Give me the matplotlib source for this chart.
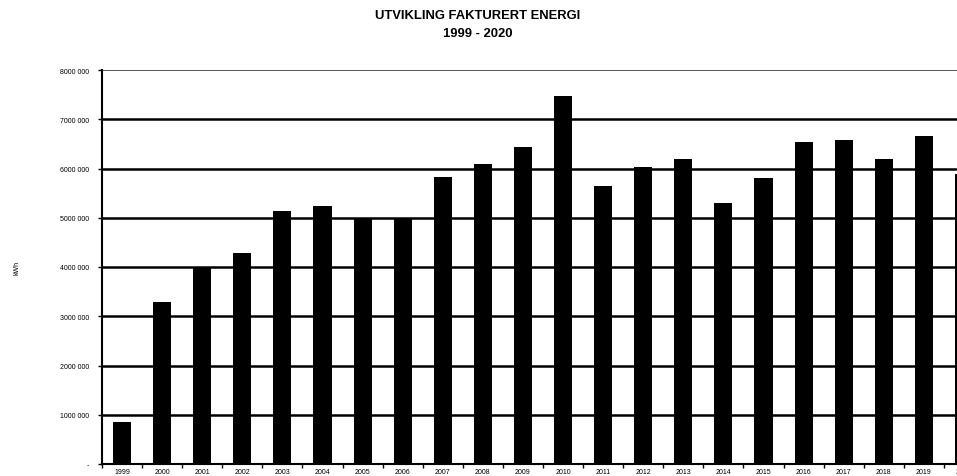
import numpy as np
import matplotlib
matplotlib.use('Agg')
import matplotlib.pyplot as plt
from matplotlib.ticker import FuncFormatter

# Data (kWh)
years = ['1999', '2000', '2001', '2002', '2003', '2004', '2005', '2006', '2007', '2008', '2009',
         '2010', '2011', '2012', '2013', '2014', '2015', '2016', '2017', '2018', '2019', '2020']
energy = [860000, 3290000, 4000000, 4290000, 5140000, 5240000, 5000000, 4990000, 5820000, 6100000, 6430000,
          7470000, 5650000, 6030000, 6200000, 5300000, 5800000, 6530000, 6580000, 6190000, 6650000, 5890000]

plt.rcParams['font.family'] = ['Liberation Sans', 'DejaVu Sans']

fig = plt.figure(figsize=(9.57, 4.77), dpi=100)
# axes runs past the right edge, like the cropped original
ax = fig.add_axes([102 / 957, 12 / 477, 882 / 957, 394 / 477])

x = np.arange(len(years))
ax.bar(x, energy, width=0.45, color='black', zorder=3)

ax.set_xlim(-0.5, len(years) - 0.5)
ax.set_ylim(0, 8000000)

ax.set_yticks(np.arange(0, 8000001, 1000000))
def fmt(v, pos):
    if v == 0:
        return '-'
    s = f'{int(v):d}'
    return s[:-3] + ' ' + s[-3:]
ax.yaxis.set_major_formatter(FuncFormatter(fmt))

for y in range(1000000, 8000000, 1000000):
    ax.axhline(y, color='black', lw=1.8, zorder=2)
ax.axhline(8000000, color='#555555', lw=0.7, zorder=2)

ax.set_xticks(x)
ax.set_xticklabels(years)
ax.set_xticks(np.arange(-0.5, len(years), 1), minor=True)
ax.tick_params(axis='x', which='major', length=0, labelsize=5, pad=3)
ax.tick_params(axis='x', which='minor', length=3, width=1, direction='out')
ax.tick_params(axis='y', length=3, width=1, labelsize=5, pad=6)

for side in ['top', 'right']:
    ax.spines[side].set_visible(False)
ax.spines['left'].set_linewidth(1.5)
ax.spines['bottom'].set_linewidth(1.5)

fig.text(17 / 957, 1 - 268 / 477, 'kWh', rotation=90, fontsize=5, ha='center', va='center')
fig.text(478 / 957, 1 - 16 / 477, 'UTVIKLING FAKTURERT ENERGI', fontsize=9.4, fontweight='bold',
         ha='center', va='center')
fig.text(478 / 957, 1 - 34 / 477, '1999 - 2020', fontsize=9.4, fontweight='bold',
         ha='center', va='center')

fig.savefig('out.png', dpi=100)
